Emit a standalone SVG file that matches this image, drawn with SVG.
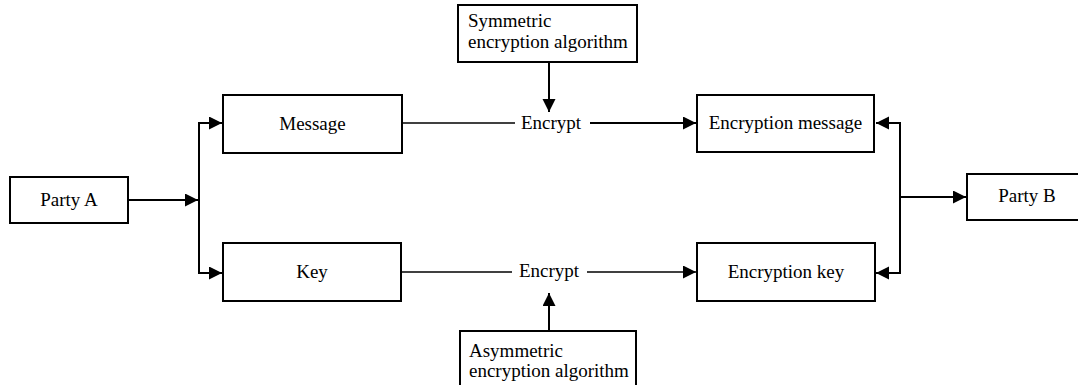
<svg xmlns="http://www.w3.org/2000/svg" width="1078" height="385" viewBox="0 0 1078 385">
<defs>
<style>
.box{fill:#fff;stroke:#000;stroke-width:2}
.t{font-family:"Liberation Serif","Times New Roman",serif;font-size:19px;fill:#000}
.c{text-anchor:middle}
.ln{fill:none;stroke:#000;stroke-width:2}
.thin{fill:none;stroke:#000;stroke-width:1.5}
</style>
<marker id="ah" markerUnits="userSpaceOnUse" markerWidth="14" markerHeight="14" refX="13" refY="6.5" orient="auto">
<path d="M0,0 L13,6.5 L0,13 z" fill="#000"/>
</marker>
</defs>
<rect width="1078" height="385" fill="#fff"/>
<g id="connectors">
<line class="ln" x1="128" y1="200" x2="198" y2="200" marker-end="url(#ah)"/>
<line class="ln" x1="199" y1="123" x2="199" y2="273"/>
<polyline class="ln" points="198,123 222,123" marker-end="url(#ah)"/>
<polyline class="ln" points="198,273 222,273" marker-end="url(#ah)"/>
<line class="thin" x1="402" y1="123" x2="515" y2="123"/>
<line class="ln" x1="590" y1="123" x2="696" y2="123" marker-end="url(#ah)"/>
<line class="thin" x1="401" y1="272" x2="512" y2="272"/>
<line class="thin" x1="587" y1="272" x2="696" y2="272" marker-end="url(#ah)"/>
<line class="ln" x1="549" y1="62" x2="549" y2="112" marker-end="url(#ah)"/>
<line class="ln" x1="549" y1="331" x2="549" y2="293" marker-end="url(#ah)"/>
<line class="ln" x1="900" y1="122" x2="900" y2="274"/>
<line class="ln" x1="901" y1="123" x2="876" y2="123" marker-end="url(#ah)"/>
<line class="ln" x1="901" y1="273" x2="876" y2="273" marker-end="url(#ah)"/>
<line class="ln" x1="900" y1="197" x2="966" y2="197" marker-end="url(#ah)"/>
</g>
<g id="partyA">
<rect class="box" x="10" y="177" width="118" height="46"/>
<text class="t c" x="69" y="206">Party A</text>
</g>
<g id="message">
<rect class="box" x="223" y="95" width="179" height="58"/>
<text class="t c" x="312.5" y="130">Message</text>
</g>
<g id="key">
<rect class="box" x="223" y="243" width="178" height="58"/>
<text class="t c" x="312" y="278">Key</text>
</g>
<g id="symmetric">
<rect class="box" x="458" y="5" width="179" height="57"/>
<text class="t" x="468" y="27">Symmetric</text>
<text class="t" x="468" y="48">encryption algorithm</text>
</g>
<g id="encrypt1">
<text class="t c" x="551" y="129">Encrypt</text>
</g>
<g id="encrypt2">
<text class="t c" x="549" y="277">Encrypt</text>
</g>
<g id="asymmetric">
<rect class="box" x="460" y="331" width="176" height="60"/>
<text class="t" x="469" y="357">Asymmetric</text>
<text class="t" x="469" y="377">encryption algorithm</text>
</g>
<g id="encMessage">
<rect class="box" x="697" y="95" width="177" height="57"/>
<text class="t c" x="785.5" y="129">Encryption message</text>
</g>
<g id="encKey">
<rect class="box" x="697" y="243" width="178" height="58"/>
<text class="t c" x="786" y="278">Encryption key</text>
</g>
<g id="partyB">
<rect class="box" x="967" y="174" width="120" height="46"/>
<text class="t c" x="1027" y="202">Party B</text>
</g>
</svg>
